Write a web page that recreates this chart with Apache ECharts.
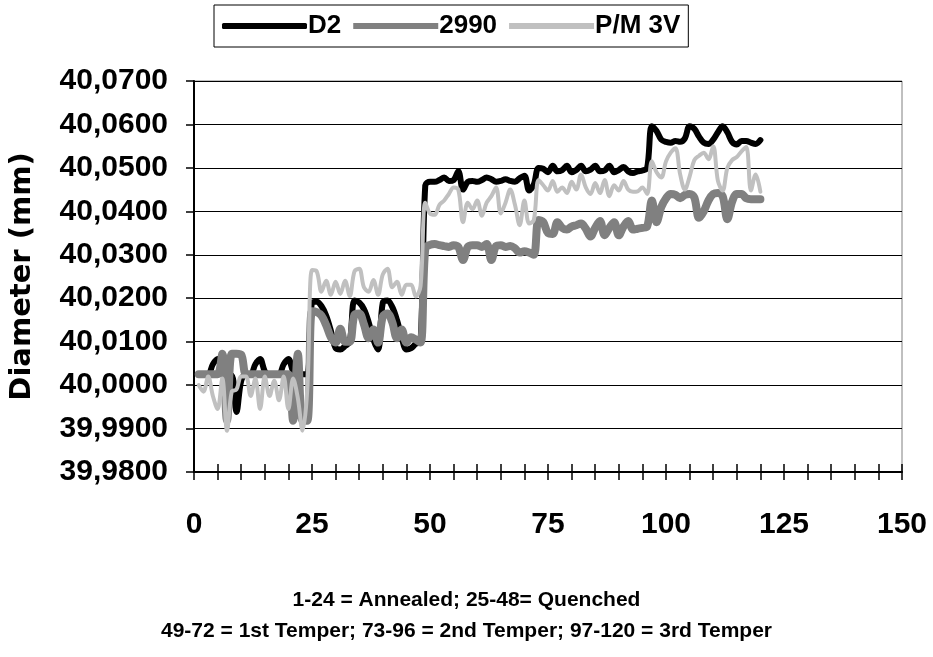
<!DOCTYPE html>
<html>
<head>
<meta charset="utf-8">
<script src="https://cdn.jsdelivr.net/npm/echarts@6/dist/echarts.min.js"></script>
<style>
html,body{margin:0;padding:0;background:#fff;}
#chart{width:933px;height:657px;}
</style>
</head>
<body>
<div id="chart"></div>
<script>
const seriesNames = ['D2', '2990', 'P/M 3V'];
const xTicks = [0, 25, 50, 75, 100, 125, 150];
const yTicks = [39.98, 39.99, 40.00, 40.01, 40.02, 40.03, 40.04, 40.05, 40.06, 40.07];
const notes = ['1-24 = Annealed; 25-48= Quenched', '49-72 = 1st Temper; 73-96 = 2nd Temper; 97-120 = 3rd Temper'];

const d2 = [
  40.0025, 40.0025, 40.0025, 40.0048, 40.0060, 40.0035, 40.0022, 40.0022, 39.9938, 40.0010, 40.0025, 40.0025,
  40.0048, 40.0060, 40.0032, 40.0025, 40.0025, 40.0025, 40.0048, 40.0060, 40.0032, 40.0025, 40.0025, 40.0025,
  40.0190, 40.0192, 40.0182, 40.0160, 40.0125, 40.0085, 40.0082, 40.0090, 40.0100, 40.0195, 40.0190, 40.0175,
  40.0145, 40.0105, 40.0082, 40.0190, 40.0195, 40.0180, 40.0150, 40.0110, 40.0082, 40.0085, 40.0095, 40.0100,
  40.0460, 40.0468, 40.0468, 40.0472, 40.0478, 40.0470, 40.0472, 40.0492, 40.0450, 40.0468, 40.0470, 40.0468,
  40.0472, 40.0478, 40.0474, 40.0468, 40.0470, 40.0474, 40.0470, 40.0468, 40.0476, 40.0482, 40.0448, 40.0462,
  40.0500, 40.0498, 40.0490, 40.0505, 40.0492, 40.0495, 40.0505, 40.0490, 40.0495, 40.0505, 40.0492, 40.0496,
  40.0505, 40.0492, 40.0494, 40.0505, 40.0490, 40.0495, 40.0502, 40.0492, 40.0488, 40.0492, 40.0494, 40.0500,
  40.0596, 40.0585, 40.0565, 40.0560, 40.0558, 40.0562, 40.0560, 40.0568, 40.0596, 40.0590, 40.0572, 40.0558,
  40.0555, 40.0565, 40.0582, 40.0596, 40.0582, 40.0560, 40.0554, 40.0562, 40.0562, 40.0558, 40.0555, 40.0564
];

const s2990 = [
  40.0025, 40.0025, 40.0025, 40.0025, 40.0025, 40.0072, 39.9918, 40.0072, 40.0072, 40.0070, 40.0025, 40.0025,
  40.0025, 40.0025, 40.0025, 40.0025, 40.0025, 40.0025, 40.0025, 40.0025, 39.9918, 40.0072, 39.9918, 39.9918,
  40.0170, 40.0168, 40.0160, 40.0138, 40.0110, 40.0098, 40.0130, 40.0100, 40.0100, 40.0162, 40.0165, 40.0140,
  40.0108, 40.0128, 40.0098, 40.0158, 40.0165, 40.0145, 40.0108, 40.0128, 40.0098, 40.0110, 40.0105, 40.0098,
  40.0315, 40.0323, 40.0325, 40.0322, 40.0320, 40.0318, 40.0322, 40.0318, 40.0288, 40.0318, 40.0322, 40.0322,
  40.0318, 40.0325, 40.0288, 40.0320, 40.0322, 40.0318, 40.0320, 40.0315, 40.0305, 40.0308, 40.0305, 40.0300,
  40.0380, 40.0375, 40.0350, 40.0348, 40.0375, 40.0362, 40.0358, 40.0365, 40.0368, 40.0372, 40.0360, 40.0342,
  40.0362, 40.0378, 40.0345, 40.0362, 40.0375, 40.0345, 40.0365, 40.0378, 40.0358, 40.0360, 40.0362, 40.0365,
  40.0425, 40.0375, 40.0410, 40.0430, 40.0440, 40.0438, 40.0430, 40.0438, 40.0440, 40.0432, 40.0385, 40.0400,
  40.0425, 40.0440, 40.0442, 40.0435, 40.0382, 40.0422, 40.0440, 40.0440, 40.0430, 40.0428, 40.0428, 40.0428
];

const pm3v = [
  40.0000, 39.9985, 40.0020, 39.9975, 39.9945, 40.0015, 39.9895, 39.9985, 39.9990, 40.0020, 40.0020, 39.9975,
  40.0015, 39.9945, 40.0020, 39.9975, 40.0010, 39.9965, 40.0020, 39.9945, 40.0015, 39.9970, 39.9895, 39.9990,
  40.0265, 40.0262, 40.0215, 40.0240, 40.0208, 40.0238, 40.0210, 40.0240, 40.0205, 40.0262, 40.0268, 40.0225,
  40.0215, 40.0242, 40.0208, 40.0255, 40.0268, 40.0225, 40.0238, 40.0208, 40.0231, 40.0231, 40.0204, 40.0228,
  40.0420, 40.0395, 40.0392, 40.0415, 40.0425, 40.0440, 40.0455, 40.0450, 40.0375, 40.0420, 40.0405, 40.0425,
  40.0390, 40.0420, 40.0435, 40.0455, 40.0395, 40.0420, 40.0450, 40.0415, 40.0368, 40.0425, 40.0372, 40.0380,
  40.0472, 40.0460, 40.0448, 40.0470, 40.0445, 40.0455, 40.0442, 40.0468, 40.0450, 40.0485, 40.0455, 40.0440,
  40.0465, 40.0442, 40.0472, 40.0435, 40.0460, 40.0448, 40.0470, 40.0450, 40.0445, 40.0446, 40.0455, 40.0440,
  40.0515, 40.0490, 40.0478, 40.0515, 40.0535, 40.0545, 40.0485, 40.0450, 40.0480, 40.0518, 40.0528, 40.0535,
  40.0520, 40.0550, 40.0470, 40.0448, 40.0500, 40.0518, 40.0525, 40.0538, 40.0548, 40.0448, 40.0485, 40.0445
];

function pairs(arr) { return arr.map((v, i) => [i + 1, v]); }

const FONT = 'Liberation Sans, Arial, sans-serif';
const chart = echarts.init(document.getElementById('chart'), null, {renderer: 'canvas'});

const option = {
  animation: false,
  backgroundColor: '#ffffff',
  grid: {left: 192, right: 31, top: 81, bottom: 185, show: true, borderColor: '#808080', borderWidth: 1, backgroundColor: 'transparent'},
  legend: {
    data: [
      {name: seriesNames[0], icon: 'roundRect'},
      {name: seriesNames[1], icon: 'rect'},
      {name: seriesNames[2], icon: 'rect'}
    ],
    left: 214, top: 5,
    padding: [8, 8, 8, 8],
    itemGap: 12, itemWidth: 85, itemHeight: 6,
    borderColor: '#000', borderWidth: 1,
    textStyle: {fontFamily: FONT, fontWeight: 'bold', fontSize: 26, color: '#000', padding: [0, 0, 0, -4]}
  },
  xAxis: [{
    type: 'value', min: xTicks[0], max: xTicks[xTicks.length - 1], interval: 5,
    axisLine: {show: true, onZero: false, lineStyle: {color: '#000', width: 2}},
    axisTick: {show: true, inside: false, length: 8, lineStyle: {color: '#000', width: 1.5}},
    axisLabel: {
      margin: 38, fontFamily: FONT, fontWeight: 'bold', fontSize: 30, color: '#000',
      formatter: v => (xTicks.indexOf(v) >= 0 ? String(v) : '')
    },
    splitLine: {show: false}
  }, {
    type: 'value', min: xTicks[0], max: xTicks[xTicks.length - 1], interval: 5, position: 'bottom',
    axisLine: {show: false},
    axisTick: {show: true, inside: true, length: 8, lineStyle: {color: '#000', width: 1.5}},
    axisLabel: {show: false},
    splitLine: {show: false}
  }],
  yAxis: {
    type: 'value', min: yTicks[0], max: yTicks[yTicks.length - 1], interval: 0.01,
    name: 'Diameter (mm)', nameLocation: 'middle', nameGap: 157, nameRotate: 90,
    nameTextStyle: {fontFamily: 'DejaVu Sans, sans-serif', fontWeight: 'bold', fontSize: 29, color: '#000'},
    axisLine: {show: true, lineStyle: {color: '#000', width: 2}},
    axisTick: {show: true, inside: false, length: 8, lineStyle: {color: '#000', width: 1.5}},
    axisLabel: {
      margin: 26, fontFamily: FONT, fontWeight: 'bold', fontSize: 30, color: '#000',
      formatter: v => v.toFixed(4).replace('.', ',')
    },
    splitLine: {show: true, lineStyle: {color: '#000', width: 1}}
  },
  graphic: notes.map((t, k) => ({
    type: 'text', left: 'center', top: 590 + k * 31,
    style: {text: t, fontFamily: FONT, fontWeight: 'bold', fontSize: 21, fill: '#000'}
  })),
  series: [
    {name: seriesNames[0], type: 'line', data: pairs(d2), smooth: 0.35, symbol: 'none', z: 2,
     lineStyle: {color: '#000000', width: 6, cap: 'round', join: 'round'}, itemStyle: {color: '#000000'}},
    {name: seriesNames[1], type: 'line', data: pairs(s2990), smooth: 0.35, symbol: 'none', z: 3,
     lineStyle: {color: '#808080', width: 8, cap: 'round', join: 'round'}, itemStyle: {color: '#808080'}},
    {name: seriesNames[2], type: 'line', data: pairs(pm3v), smooth: 0.35, symbol: 'none', z: 4,
     lineStyle: {color: '#c0c0c0', width: 4, cap: 'round', join: 'round'}, itemStyle: {color: '#c0c0c0'}}
  ]
};
chart.setOption(option);
</script>
</body>
</html>
